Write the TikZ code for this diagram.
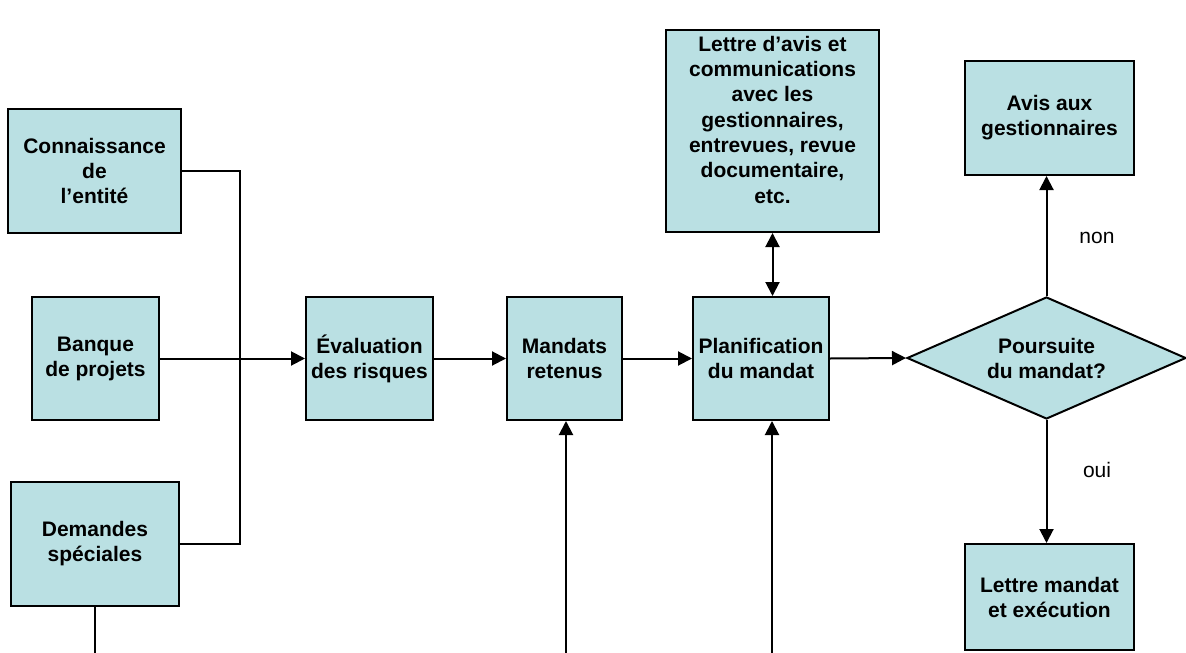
\documentclass[tikz,border=0pt]{standalone}
\usepackage{fontspec}
\setmainfont{Liberation Sans}
\usetikzlibrary{arrows.meta,shapes.geometric}
\definecolor{boxfill}{RGB}{186,224,227}
\begin{document}
\begin{tikzpicture}[x=1pt,y=-1pt,
  box/.style={draw=black,fill=boxfill,line width=2pt,inner sep=0pt,align=center,
    font=\fontsize{21}{25}\selectfont\bfseries},
  tip/.style={Triangle[length=14pt,width=14pt]},
  conn/.style={line width=2pt,-{Triangle[length=14pt,width=14pt]}},
  plain/.style={line width=2pt},
  lbl/.style={font=\fontsize{21}{25}\selectfont}]
\useasboundingbox (0,0) rectangle (1186,653);
\node[box,minimum width=173,minimum height=124] (conn) at (94.5,171) {Connaissance\\de\\l’entité};
\node[box,minimum width=127,minimum height=123] (banque) at (95.5,358.5) {Banque\\de projets};
\node[box,minimum width=168,minimum height=124] (dem) at (95,544) {Demandes\\spéciales};
\node[box,minimum width=127,minimum height=123] (eval) at (369.5,358.5) {Évaluation\\des risques};
\node[box,minimum width=115,minimum height=123] (mand) at (564.5,358.5) {Mandats\\retenus};
\node[box,minimum width=136,minimum height=123] (plan) at (761,358.5) {Planification\\du mandat};
\node[box,minimum width=213,minimum height=202,font=\fontsize{21}{25.3}\selectfont\bfseries] (lettre) at (772.5,131) {Lettre d’avis et\\communications\\avec les\\gestionnaires,\\entrevues, revue\\documentaire,\\etc.\\[-10pt]\strut};
\node[box,minimum width=169,minimum height=114] (avis) at (1049.5,118) {Avis aux\\gestionnaires};
\node[box,diamond,minimum width=279,minimum height=122,shape aspect=2.3] (pours) at (1046.5,358) {Poursuite\\du mandat?};
\node[box,minimum width=169,minimum height=106] (lm) at (1049.5,597) {Lettre mandat\\et exécution};
\coordinate (junc) at (240,358.5);
\coordinate (demend) at (95,653);
\coordinate (b1) at (566,653);
\coordinate (b2) at (772,653);
\draw[plain] (conn.east) -| (junc) |- (dem.east);
\draw[conn] (banque.east) -- (eval.west);
\draw[plain] (dem.south) -- (demend);
\draw[conn] (eval.east) -- (mand.west);
\draw[conn] (mand.east) -- (plan.west);
\draw[conn] (plan.east) -- (pours.west);
\draw[conn] (b1) -- (b1 |- mand.south);
\draw[conn] (b2) -- (b2 |- plan.south);
\draw[plain,{Triangle[length=14pt,width=14pt]}-{Triangle[length=14pt,width=14pt]}] (lettre.south) -- (lettre.south |- plan.north);
\draw[conn] (pours.north) -- (pours.north |- avis.south);
\draw[conn] (pours.south) -- (pours.south |- lm.north);
\node[lbl] (non) at (1097,238) {non};
\node[lbl] (oui) at (1097,470) {oui};
\end{tikzpicture}
\end{document}
